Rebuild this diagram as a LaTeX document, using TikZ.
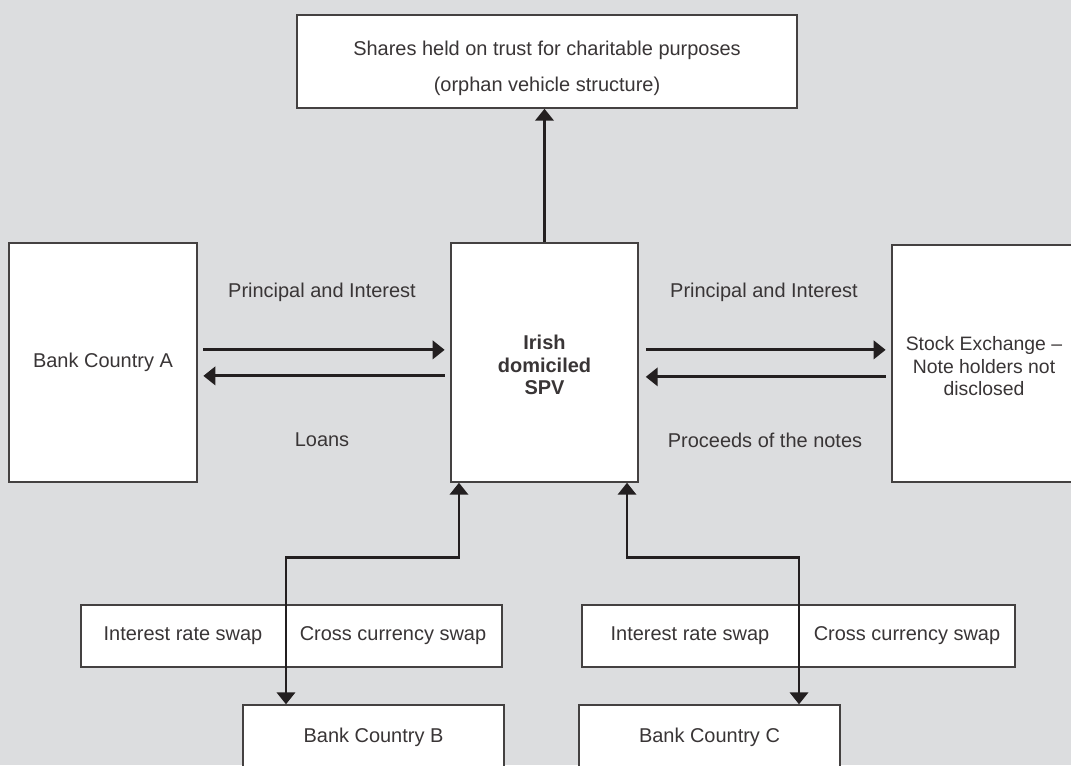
\documentclass[tikz,border=0pt]{standalone}
\usepackage{fontspec}
\setmainfont{Liberation Sans}
\usetikzlibrary{arrows.meta}
\definecolor{bg}{HTML}{DCDDDF}
\definecolor{ink}{HTML}{231F20}

\begin{document}
\begin{tikzpicture}[
    x=.025cm, y=-.025cm,
    box/.style={draw=ink!85, line width=1pt, fill=white, inner sep=0pt,
        align=center, text=ink!90, font=\fontsize{14.2}{16}\selectfont},
    flow/.style={-{Triangle[width=13pt,length=8.5pt]}, line width=2pt, draw=ink},
    lbl/.style={text=ink!90, font=\fontsize{14.2}{16}\selectfont},
]
    \useasboundingbox (0,0) rectangle (1071,765);
    \fill[bg] (0,0) rectangle (1071,765);
    \clip (0,0) rectangle (1071,765);

    %% boxes
    \node[box, minimum width=12.5cm, minimum height=2.325cm,
        font=\fontsize{14.2}{25}\selectfont] (trust) at (547,61.5)
        {\rule{0pt}{20pt}Shares held on trust for charitable purposes\\(orphan vehicle structure)};
    \node[box, minimum width=4.675cm, minimum height=5.975cm,
        font=\fontsize{14.2}{16}\selectfont\bfseries] (spv) at (544.5,362.5)
        {\rule{0pt}{14pt}Irish\\domiciled\\SPV};
    \node[box, minimum width=4.7cm, minimum height=5.975cm] (bankA) at (103,362.5)
        {Bank Country A};
    \node[box, minimum width=4.6cm, minimum height=5.925cm,
        font=\fontsize{13.8}{16}\selectfont] (stock) at (984,363.5)
        {\rule{0pt}{14pt}Stock Exchange --\\Note holders not\\disclosed};

    \node[box, minimum width=10.525cm, minimum height=1.55cm] (swapB) at (291.5,636) {};
    \node[box, minimum width=10.825cm, minimum height=1.55cm] (swapC) at (798.5,636) {};
    \node[box, minimum width=6.525cm, minimum height=1.6cm] (bankB) at (373.5,737)
        {Bank Country B};
    \node[box, minimum width=6.525cm, minimum height=1.6cm] (bankC) at (709.5,737)
        {Bank Country C};

    %% swap labels
    \node[lbl] (irsB) at (183,636) {Interest rate swap};
    \node[lbl] (ccsB) at (393,636) {Cross currency swap};
    \node[lbl] (irsC) at (690,636) {Interest rate swap};
    \node[lbl] (ccsC) at (907,636) {Cross currency swap};

    %% flow labels
    \node[lbl] (piA) at (322,292) {Principal and Interest};
    \node[lbl] (loans) at (322,440) {Loans};
    \node[lbl] (piS) at (764,292) {Principal and Interest};
    \node[lbl] (proc) at (765,440) {Proceeds of the notes};

    %% flows
    \draw[flow] (spv.north) -- (spv.north |- trust.south);
    \draw[flow, shorten <=4pt, shorten >=4pt]
        ([yshift=9pt]bankA.east) -- ([yshift=9pt]bankA.east -| spv.west);
    \draw[flow, shorten <=4pt, shorten >=4pt]
        ([yshift=-9.5pt]spv.west) -- ([yshift=-9.5pt]spv.west -| bankA.east);
    \draw[flow, shorten <=5pt, shorten >=4pt]
        ([yshift=9pt]spv.east) -- ([yshift=9pt]spv.east -| stock.west);
    \draw[flow, shorten <=4pt, shorten >=5pt]
        ([yshift=-9.5pt]stock.west) -- ([yshift=-9.5pt]stock.west -| spv.east);

    \draw[flow, {Triangle[width=13pt,length=8.5pt]}-{Triangle[width=13pt,length=8.5pt]}]
        ([xshift=-2.1875cm]bankB.north) -- ++(0,-147) -| ([xshift=-2.1375cm]spv.south);
    \draw[flow, {Triangle[width=13pt,length=8.5pt]}-{Triangle[width=13pt,length=8.5pt]}]
        ([xshift=2.2375cm]bankC.north) -- ++(0,-147) -| ([xshift=2.0625cm]spv.south);
\end{tikzpicture}
\end{document}
